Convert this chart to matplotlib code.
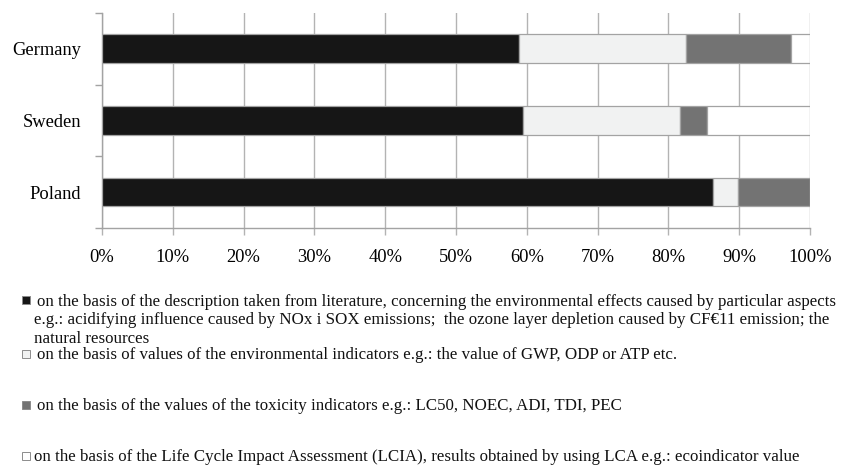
import numpy as np
import matplotlib
matplotlib.use("Agg")
import matplotlib.pyplot as plt
from matplotlib.patches import Rectangle
from matplotlib.ticker import PercentFormatter, FixedLocator

# ── Data (share of answers, %) ───────────────────────────────────
countries = ["Poland", "Sweden", "Germany"]
literature = [86.3, 59.4, 58.9]
env_indicators = [3.6, 22.2, 23.6]
toxicity = [10.1, 3.8, 14.8]
lcia = [0.0, 14.6, 2.7]

series = [literature, env_indicators, toxicity, lcia]
colors = ["#161616", "#f1f2f2", "#737373", "#ffffff"]

legend_lines = [
    ["on the basis of the description taken from literature, concerning the environmental effects caused by particular aspects",
     "e.g.: acidifying influence caused by NOx i SOX emissions;  the ozone layer depletion caused by CF\u20ac11 emission; the",
     "natural resources"],
    ["on the basis of values of the environmental indicators e.g.: the value of GWP, ODP or ATP etc."],
    ["on the basis of the values of the toxicity indicators e.g.: LC50, NOEC, ADI, TDI, PEC"],
    ["on the basis of the Life Cycle Impact Assessment (LCIA), results obtained by using LCA e.g.: ecoindicator value"],
]

plt.rcParams["font.family"] = ["Liberation Serif", "DejaVu Serif"]

W, H = 851, 465
fig = plt.figure(figsize=(W / 100, H / 100), dpi=100)
ax = fig.add_axes([102 / W, 1 - 228 / H, (810 - 102) / W, (228 - 13) / H])

y = np.arange(len(countries))
left = np.zeros(len(countries))
for vals, c in zip(series, colors):
    ax.barh(y, vals, left=left, height=0.4, color=c, edgecolor="#a3a3a3",
            linewidth=0.9, zorder=3)
    left += np.array(vals)

ax.set_xlim(0, 100)
ax.set_ylim(-0.5, len(countries) - 0.5)
ax.set_xticks(np.arange(0, 101, 10))
ax.xaxis.set_major_formatter(PercentFormatter(decimals=0))
ax.grid(True, axis="x", color="#b3b3b3", linewidth=1.0, zorder=0)

# y ticks on category boundaries, labels centred on bars
ax.yaxis.set_major_locator(FixedLocator(np.arange(-0.5, len(countries), 1.0)))
ax.yaxis.set_major_formatter(plt.NullFormatter())
ax.yaxis.set_minor_locator(FixedLocator(y))
ax.set_yticklabels(countries, minor=True)
ax.tick_params(axis="y", which="major", length=5, color="#a3a3a3", width=1.0)
ax.tick_params(axis="y", which="minor", length=0, pad=15, labelsize=13.3)
ax.tick_params(axis="x", length=5, color="#b3b3b3", width=1.0, pad=10, labelsize=13.3)

for s in ["top", "right"]:
    ax.spines[s].set_visible(False)
for s in ["left", "bottom"]:
    ax.spines[s].set_color("#a3a3a3")
    ax.spines[s].set_linewidth(1.0)

# ── Legend written below the plot ────────────────────────────────
fs = 12.2
marker_y = [296, 350, 401, 452]     # top of each marker square (px)
text_x = [37, 37, 37, 34]
baselines = [305.5, 359, 410, 461]
line_step = 18.8
for i, lines in enumerate(legend_lines):
    fig.add_artist(Rectangle((22 / W, 1 - (marker_y[i] + 7.5) / H), 8 / W, 7.5 / H,
                             transform=fig.transFigure, facecolor=colors[i],
                             edgecolor="#8c8c8c", linewidth=0.7))
    for j, line in enumerate(lines):
        x0 = text_x[i] if j == 0 else 34
        fig.text(x0 / W, 1 - (baselines[i] + line_step * j) / H, line, fontsize=fs,
                 va="baseline", ha="left", color="#111111")

fig.savefig("out.png", dpi=100)
